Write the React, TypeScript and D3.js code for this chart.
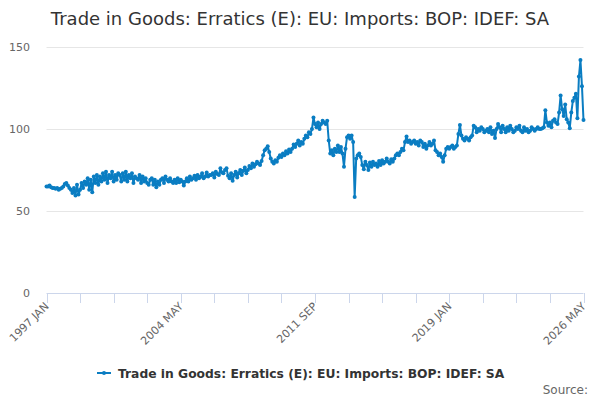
import React from "react";
import * as d3 from "d3";

const TITLE = "Trade in Goods: Erratics (E): EU: Imports: BOP: IDEF: SA";
const SERIES_NAME = "Trade in Goods: Erratics (E): EU: Imports: BOP: IDEF: SA";
const START_YEAR = 1997;
const MONTHS = ["JAN", "FEB", "MAR", "APR", "MAY", "JUN", "JUL", "AUG", "SEP", "OCT", "NOV", "DEC"];
const Y_TICKS = [0, 50, 100, 150];

const v1997 = [65, 65, 65.5, 64.5, 64, 64, 63.5, 64, 63, 63.5, 64, 65];
const v1998 = [66.5, 67, 65.5, 64, 63, 61, 64, 59.5, 66, 60, 63, 67];
const v1999 = [64, 68, 66, 70, 63, 69, 61.5, 71, 67, 72, 66, 71];
const v2000 = [68, 73, 69, 74, 67, 72, 70, 74, 68, 72, 69, 73];
const v2001 = [72, 68, 73, 69, 74, 68, 72, 70, 73, 67, 71, 70];
const v2002 = [69, 72, 67, 71, 68, 70, 67, 66, 69, 70, 66, 69];
const v2003 = [64.5, 68, 66, 69, 70, 67, 71, 69, 68, 70, 68, 67];
const v2004 = [69, 67, 70, 67.5, 69, 68, 65.5, 68, 70, 68, 71, 69];
const v2005 = [70, 71.5, 69, 72, 70, 71, 73, 70, 71, 73.5, 71, 72];
const v2006 = [72, 73, 70.5, 74, 72.5, 72, 76, 73.5, 73, 75, 76, 71.5];
const v2007 = [70, 73, 68.5, 72, 74, 70.5, 73, 75, 72, 74.5, 76.5, 73];
const v2008 = [75, 77.5, 76, 79, 77, 78.5, 80, 79, 78, 80.5, 84, 87];
const v2009 = [88, 89.5, 86, 82, 80, 79, 81, 80, 82.5, 84, 83, 85];
const v2010 = [84, 86.5, 85, 87.5, 86, 88, 90.5, 89, 91, 93, 90, 92];
const v2011 = [91, 94, 96, 95, 98, 97, 100, 107, 103, 101, 104, 100];
const v2012 = [103, 105, 104, 103, 105, 93, 85, 87, 84, 88, 86, 90];
const v2013 = [86, 89, 85, 77, 88, 95, 96, 94, 96, 92, 58.5, 82];
const v2014 = [84, 85, 83, 78, 75.5, 80, 78, 75, 79.5, 77, 80, 78];
const v2015 = [79, 77, 80.5, 78, 81, 79, 80, 82, 80, 79, 81.5, 80];
const v2016 = [82, 84, 85, 84, 86, 88, 87, 92, 95.5, 92, 93, 91];
const v2017 = [92, 93, 91, 92, 90, 93, 92, 89, 91, 88, 90, 92];
const v2018 = [90, 91, 93, 87, 86, 84, 85, 83, 80, 84, 88, 89];
const v2019 = [88, 89, 90, 88, 89, 90, 97, 102.5, 96, 94, 93, 95];
const v2020 = [94, 93, 95, 96, 102, 101, 98, 100, 99, 101, 100, 98];
const v2021 = [99, 100, 98, 101, 97, 99, 94.5, 100, 103, 101, 98, 102];
const v2022 = [100, 98, 101, 99, 102, 100, 98, 99, 101, 100, 102, 99];
const v2023 = [98, 101, 99, 100, 98, 99, 101, 100, 99, 100, 101, 100];
const v2024 = [100, 100.5, 101, 111.5, 104, 102, 104, 101, 105, 106, 104, 103];
const v2025 = [110, 120.5, 112, 108, 115, 106, 104, 100.5, 110, 117, 119, 121.5];
const v2026 = [106.5, 132, 142, 126, 105.5];

const VALUES: number[] = [
  ...v1997, ...v1998, ...v1999, ...v2000, ...v2001, ...v2002, ...v2003, ...v2004,
  ...v2005, ...v2006, ...v2007, ...v2008, ...v2009, ...v2010, ...v2011, ...v2012,
  ...v2013, ...v2014, ...v2015, ...v2016, ...v2017, ...v2018, ...v2019, ...v2020,
  ...v2021, ...v2022, ...v2023, ...v2024, ...v2025, ...v2026,
];

const TICK_STEP = 22;
const LABEL_STEP = 88;

const FONT = '"DejaVu Sans", "Lucida Grande", Arial, sans-serif';
const LINE_COLOR = "#0a7dc2";

export default function App() {
  const W = 600;
  const H = 400;
  const left = 46.5;
  const right = 583.5;
  const top = 47;
  const bottom = 293;

  const data = VALUES.map((v, i) => ({ i, v }));
  const x = d3.scaleLinear().domain([0, VALUES.length - 1]).range([left, right]);
  const y = d3.scaleLinear().domain([0, 150]).range([bottom, top]);

  const line = d3
    .line<{ i: number; v: number }>()
    .x((d) => x(d.i))
    .y((d) => y(d.v));

  const ticks = d3.range(0, VALUES.length, TICK_STEP);
  const labelOf = (i: number) => `${START_YEAR + Math.floor(i / 12)} ${MONTHS[i % 12]}`;

  return (
    <svg
      width={W}
      height={H}
      style={{ position: "absolute", left: 0, top: 0, fontFamily: FONT, background: "#fff" }}
    >
      <rect x={0} y={0} width={W} height={H} fill="#fff" />
      <text x={W / 2} y={25} textAnchor="middle" fontSize={18} fill="#333">
        {TITLE}
      </text>

      {Y_TICKS.map((t) => (
        <g key={t}>
          {t !== 0 && (
            <line x1={left} x2={right} y1={y(t) + 0.5} y2={y(t) + 0.5} stroke="#e6e6e6" strokeWidth={1} />
          )}
          <text x={30} y={y(t) + 4} textAnchor="end" fontSize={11} fill="#666">
            {t}
          </text>
        </g>
      ))}

      <line x1={left} x2={right} y1={bottom + 0.5} y2={bottom + 0.5} stroke="#ccd6eb" strokeWidth={1} />
      {ticks.map((t) => (
        <line
          key={t}
          x1={Math.round(x(t)) + 0.5}
          x2={Math.round(x(t)) + 0.5}
          y1={bottom}
          y2={bottom + 10}
          stroke="#ccd6eb"
          strokeWidth={1}
        />
      ))}
      {ticks
        .filter((t) => t % LABEL_STEP === 0)
        .map((t) => (
          <text
            key={t}
            transform={`translate(${x(t) + 3},${bottom + 14}) rotate(-45)`}
            textAnchor="end"
            fontSize={11}
            fill="#666"
          >
            {labelOf(t)}
          </text>
        ))}

      <path d={line(data) || ""} fill="none" stroke={LINE_COLOR} strokeWidth={2} strokeLinejoin="round" />
      {data.map((d) => (
        <circle key={d.i} cx={x(d.i)} cy={y(d.v)} r={2} fill={LINE_COLOR} />
      ))}

      <g>
        <line x1={97} x2={111} y1={373} y2={373} stroke={LINE_COLOR} strokeWidth={2} />
        <circle cx={104} cy={373} r={2} fill={LINE_COLOR} />
        <text x={118} y={377.5} fontSize={12.3} fontWeight="bold" fill="#333">
          {SERIES_NAME}
        </text>
      </g>

      <text x={588} y={394} textAnchor="end" fontSize={12} fill="#666">
        Source:
      </text>
    </svg>
  );
}
